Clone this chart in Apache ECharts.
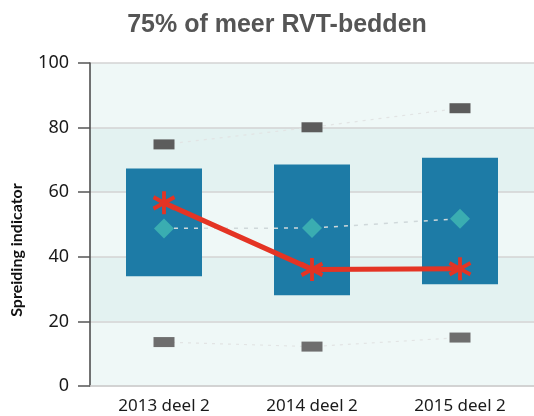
<!DOCTYPE html>
<html>
<head>
<meta charset="utf-8">
<script src="https://cdn.jsdelivr.net/npm/echarts@6/dist/echarts.min.js"></script>
<style>
  html, body { margin: 0; padding: 0; background: #fff; }
  #chart { width: 534px; height: 416px; }
</style>
</head>
<body>
<div id="chart"></div>
<script>
// categorieën en waarden
const categories = ["2013 deel 2", "2014 deel 2", "2015 deel 2"]
const boxLow = [34.0, 28.1, 31.5]
const boxHigh = [67.3, 68.6, 70.7]
const maxValues = [74.8, 80.1, 86.0]
const minValues = [13.6, 12.2, 15.0]
const meanValues = [48.8, 48.9, 51.8]
const indicatorValues = [56.7, 36.1, 36.3]
const yTicks = [0, 20, 40, 60, 80, 100]

const chart = echarts.init(document.getElementById("chart"))

const starPath = "path://M10,0 L10,22 M0.5,5.5 L19.5,16.5 M0.5,16.5 L19.5,5.5"
const axisFont = "Noto Sans"

const option = {
  animation: false,
  title: {
    text: "75% of meer RVT-bedden",
    left: 272,
    textAlign: "center",
    top: 8,
    textStyle: {
      fontFamily: "Liberation Sans",
      fontWeight: "bold",
      fontSize: 25,
      color: "#555"
    }
  },
  graphic: [
    {
      type: "text",
      x: 17,
      y: 250,
      rotation: Math.PI / 2,
      style: {
        text: "Spreiding indicator",
        font: "bold 16px Lato",
        fill: "#111",
        align: "center",
        verticalAlign: "middle"
      }
    }
  ],
  grid: {
    left: 90,
    right: -9,
    top: 63,
    bottom: 30
  },
  xAxis: {
    type: "category",
    data: categories,
    boundaryGap: true,
    axisLine: { lineStyle: { color: "#cfcfcf", width: 1.5 } },
    axisTick: { show: false },
    axisLabel: {
      fontFamily: axisFont,
      fontSize: 17,
      color: "#1a1a1a",
      margin: 12
    }
  },
  yAxis: {
    type: "value",
    min: yTicks[0],
    max: yTicks[yTicks.length - 1],
    interval: 20,
    axisLine: { show: true, lineStyle: { color: "#444", width: 1.5 } },
    axisTick: { show: true, length: 12, lineStyle: { color: "#555", width: 1.5 } },
    axisLabel: {
      fontFamily: axisFont,
      fontSize: 18,
      color: "#1a1a1a",
      margin: 21
    },
    splitLine: { lineStyle: { color: "#d3d3d3", width: 1.5 } },
    splitArea: {
      show: true,
      areaStyle: { color: ["#eff8f7", "#e3f2f1"] }
    }
  },
  series: [
    {
      name: "basis",
      type: "bar",
      stack: "box",
      barWidth: 76,
      silent: true,
      itemStyle: { color: "transparent" },
      data: boxLow
    },
    {
      name: "spreiding",
      type: "bar",
      stack: "box",
      barWidth: 76,
      itemStyle: { color: "#1d7ba6" },
      data: boxHigh.map((h, i) => +(h - boxLow[i]).toFixed(1))
    },
    {
      name: "max",
      type: "line",
      z: 3,
      symbol: "rect",
      symbolSize: [21, 10],
      itemStyle: { color: "#5c5c5c" },
      lineStyle: { color: "#e2e4e4", width: 1.2, type: [3, 5] },
      data: maxValues
    },
    {
      name: "min",
      type: "line",
      z: 3,
      symbol: "rect",
      symbolSize: [21, 10],
      itemStyle: { color: "#6e6e6e" },
      lineStyle: { color: "#e2e4e4", width: 1.2, type: [3, 5] },
      data: minValues
    },
    {
      name: "gemiddelde",
      type: "line",
      z: 4,
      symbol: "diamond",
      symbolSize: [20, 20],
      itemStyle: { color: "#3aadb1" },
      lineStyle: { color: "#cfd8da", width: 1.5, type: [4, 6] },
      data: meanValues
    },
    {
      name: "indicator",
      type: "line",
      z: 5,
      symbol: starPath,
      symbolSize: [21, 23],
      itemStyle: { color: "#e43424", borderColor: "#e43424", borderWidth: 4 },
      lineStyle: { color: "#e43424", width: 5 },
      data: indicatorValues
    }
  ]
}

chart.setOption(option)
</script>
</body>
</html>
